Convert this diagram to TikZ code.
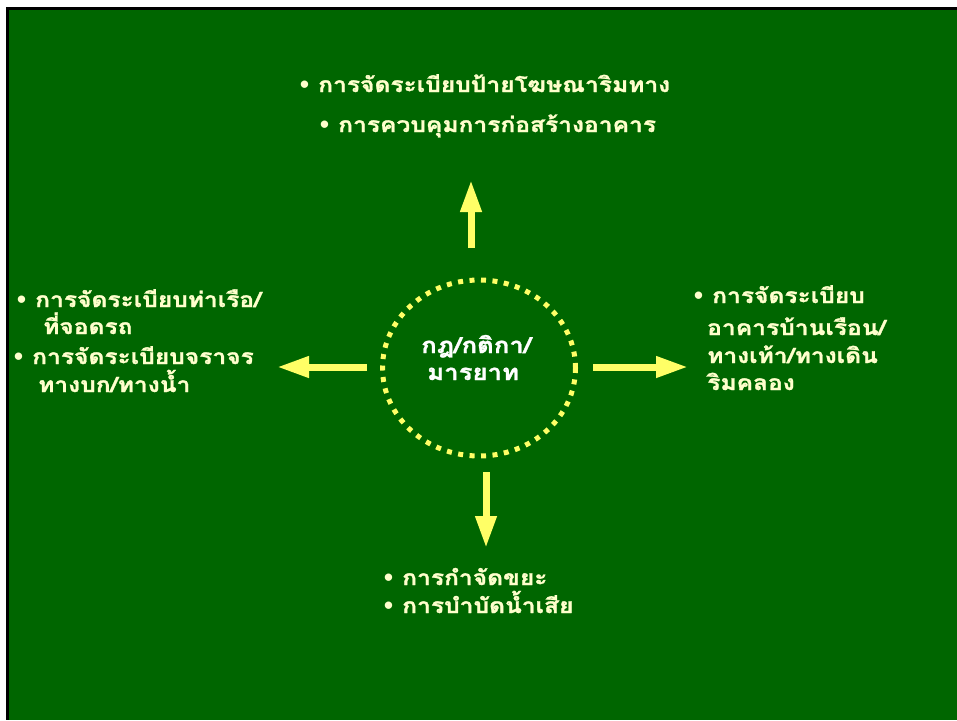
\documentclass[tikz,border=0pt]{standalone}
\usepackage{fontspec}
\usetikzlibrary{arrows.meta,shapes.geometric}
\newfontfamily\thaifont[Script=Thai,FakeStretch=1.17,BoldFeatures={FakeBold=1.3}]{Loma}
\newfontfamily\symfont{DejaVu Sans}
\definecolor{boardgreen}{HTML}{006600}
\definecolor{chalk}{HTML}{FFFFCC}
\definecolor{marker}{HTML}{FFFF66}
\newcommand{\bul}{\llap{{\symfont •}\hspace{7pt}}}
\newcommand{\txtline}[4]{\node[txt] (#1) at (#2,#3) {#4};}

\tikzset{
  txt/.style={anchor=base west, inner sep=0pt, text=chalk, font=\thaifont\bfseries\fontsize{21}{24}\selectfont},
  rulestxt/.style={txt, text=white, font=\thaifont\bfseries\fontsize{22}{24}\selectfont},
  bigarrow/.style={draw=marker, line width=7pt, -{Triangle[length=32pt,width=20pt]}},
}

\begin{document}
\begin{tikzpicture}[x=1pt,y=-1pt]
        \useasboundingbox (0,0) rectangle (957,720);
        % board
        \fill[black] (6,7) rectangle (957,720);
        \fill[boardgreen] (9,10) rectangle (957,720);
        % rules in the middle
        \node[draw=marker, ellipse, line width=5pt, dash pattern=on 5pt off 6.5pt,
              minimum width=193pt, minimum height=176pt, inner sep=0pt] (rules) at (479,368) {};
        \node[rulestxt] (rules1) at (421,353) {กฎ/กติกา/};
        \node[rulestxt] (rules2) at (427,380) {มารยาท};
        % arrow ends
        \coordinate (nfrom) at (471,248);
        \coordinate (nto)   at (471,180);
        \coordinate (wfrom) at (367,367);
        \coordinate (wto)   at (277,367);
        \coordinate (efrom) at (593,367);
        \coordinate (eto)   at (688,367);
        \coordinate (sfrom) at (486,472);
        \coordinate (sto)   at (486,548);
        % arrows
        \draw[bigarrow] (nfrom) -- (nto);
        \draw[bigarrow] (wfrom) -- (wto);
        \draw[bigarrow] (efrom) -- (eto);
        \draw[bigarrow] (sfrom) -- (sto);
        % top
        \txtline{top1}{318}{92}{\bul การจัดระเบียบป้ายโฆษณาริมทาง}
        \txtline{top2}{338}{132}{\bul การควบคุมการก่อสร้างอาคาร}
        % left
        \txtline{left1}{35}{307}{\bul การจัดระเบียบท่าเรือ/}
        \txtline{left2}{43}{334}{ที่จอดรถ}
        \txtline{left3}{32}{364}{\bul การจัดระเบียบจราจร}
        \txtline{left4}{38}{392}{ทางบก/ทางน้ำ}
        % right
        \txtline{right1}{712}{303}{\bul การจัดระเบียบ}
        \txtline{right2}{707}{335}{อาคารบ้านเรือน/}
        \txtline{right3}{707}{363}{ทางเท้า/ทางเดิน}
        \txtline{right4}{707}{390}{ริมคลอง}
        % bottom
        \txtline{bottom1}{402}{585}{\bul การกำจัดขยะ}
        \txtline{bottom2}{402}{613}{\bul การบำบัดน้ำเสีย}
\end{tikzpicture}
\end{document}
